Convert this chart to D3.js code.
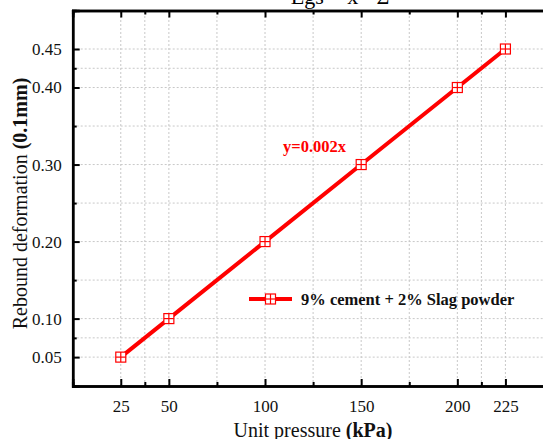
<!DOCTYPE html>
<html><head><meta charset="utf-8">
<script src="https://cdn.jsdelivr.net/npm/d3@7"></script>
<style>body{margin:0;background:#fff;} svg{display:block;}</style>
</head><body>
<script>
const pressure = [25, 50, 100, 150, 200, 225];
const rebound = [0.05, 0.10, 0.20, 0.30, 0.40, 0.45];
const xMajor = [25, 50, 100, 150, 200, 225];
const xMinor = [37.5, 75, 125, 175, 212.5];
const yMajor = [0.05, 0.10, 0.20, 0.30, 0.40, 0.45];
const yMinor = [0.075, 0.15, 0.25, 0.35, 0.425];
const seriesName = "9% cement + 2% Slag powder";
const fitLabel = "y=0.002x";

(function () {
const W = 543, H = 439;
const svg = d3.select("body").append("svg").attr("width", W).attr("height", H);
const font = "Liberation Serif, Times New Roman, serif";
const x = d3.scaleLinear().domain([0, 250]).range([72.7, 553.5]);
const y = d3.scaleLinear().domain([0.0125, 0.5]).range([386, 10.5]);
const red = "#ff0000";

// title (mostly cut off at top)
svg.append("text").attr("x", 340).attr("y", 4).attr("text-anchor", "middle")
  .attr("font-family", font).attr("font-size", 22).text("Egs = x · Σ");

// grid
const g = svg.append("g").attr("stroke", "#c8c8c8").attr("stroke-width", 1).attr("stroke-dasharray", "2,2");
xMajor.concat(xMinor).forEach(v => g.append("line").attr("x1", x(v)).attr("x2", x(v)).attr("y1", y(0.0125)).attr("y2", y(0.5)));
yMajor.concat(yMinor).forEach(v => g.append("line").attr("y1", y(v)).attr("y2", y(v)).attr("x1", x(0)).attr("x2", x(250)));

// axes
const axB = svg.append("g").attr("transform", `translate(0,${y(0.0125)})`)
  .call(d3.axisBottom(x).tickValues(xMajor).tickSize(-7).tickPadding(14).tickFormat(d3.format("d")));
const axBm = svg.append("g").attr("transform", `translate(0,${y(0.0125)})`)
  .call(d3.axisBottom(x).tickValues(xMinor).tickSize(-4).tickFormat(""));
const axT = svg.append("g").attr("transform", `translate(0,${y(0.5)})`)
  .call(d3.axisTop(x).tickValues(xMajor).tickSize(-7).tickFormat(""));
const axTm = svg.append("g").attr("transform", `translate(0,${y(0.5)})`)
  .call(d3.axisTop(x).tickValues(xMinor).tickSize(-4).tickFormat(""));
const axL = svg.append("g").attr("transform", `translate(${x(0)},0)`)
  .call(d3.axisLeft(y).tickValues(yMajor).tickSize(-7).tickPadding(11).tickFormat(d3.format(".2f")));
const axLm = svg.append("g").attr("transform", `translate(${x(0)},0)`)
  .call(d3.axisLeft(y).tickValues(yMinor).tickSize(-4).tickFormat(""));
const axR = svg.append("g").attr("transform", `translate(${x(250)},0)`)
  .call(d3.axisRight(y).tickValues([]).tickSize(0).tickFormat(""));

[axB, axBm, axT, axTm, axL, axLm, axR].forEach(a => {
  a.attr("font-family", font);
  a.select(".domain").attr("stroke", "#000").attr("stroke-width", 2.5);
  a.selectAll(".tick line").attr("stroke", "#000").attr("stroke-width", 2);
  a.selectAll("text").attr("font-family", font).attr("font-size", 17).attr("fill", "#111");
});

// line
const pts = pressure.map((p, i) => [p, rebound[i]]);
svg.append("path").datum(pts)
  .attr("d", d3.line().x(d => x(d[0])).y(d => y(d[1])))
  .attr("fill", "none").attr("stroke", red).attr("stroke-width", 4);

function marker(cx, cy) {
  const s = 5;
  const m = svg.append("g").attr("stroke", red).attr("stroke-width", 1.2).attr("fill", "none");
  m.append("rect").attr("x", cx - s).attr("y", cy - s).attr("width", 2 * s).attr("height", 2 * s).attr("fill", "#fff");
  m.append("line").attr("x1", cx - s).attr("x2", cx + s).attr("y1", cy).attr("y2", cy);
  m.append("line").attr("x1", cx).attr("x2", cx).attr("y1", cy - s).attr("y2", cy + s);
}
pts.forEach(d => marker(x(d[0]), y(d[1])));

// annotation
svg.append("text").attr("x", 283).attr("y", 152).attr("font-family", font).attr("font-weight", "bold")
  .attr("font-size", 16.5).attr("fill", red).text(fitLabel);

// legend
svg.append("line").attr("x1", 249).attr("x2", 292).attr("y1", 299).attr("y2", 299).attr("stroke", red).attr("stroke-width", 4);
marker(270.5, 299);
svg.append("text").attr("x", 301).attr("y", 305).attr("font-family", font).attr("font-weight", "bold")
  .attr("font-size", 16.5).attr("fill", "#111").text(seriesName);

// axis titles
const xt = svg.append("text").attr("x", 313).attr("y", 437).attr("text-anchor", "middle")
  .attr("font-family", font).attr("font-size", 20).attr("fill", "#111");
xt.append("tspan").text("Unit pressure ");
xt.append("tspan").attr("font-weight", "bold").text("(kPa)");

const yt = svg.append("text").attr("transform", "translate(27,203.5) rotate(-90)").attr("text-anchor", "middle")
  .attr("font-family", font).attr("font-size", 20).attr("fill", "#111");
yt.append("tspan").text("Rebound deformation ");
yt.append("tspan").attr("font-weight", "bold").text("(0.1mm)");
})();
</script>
</body></html>
